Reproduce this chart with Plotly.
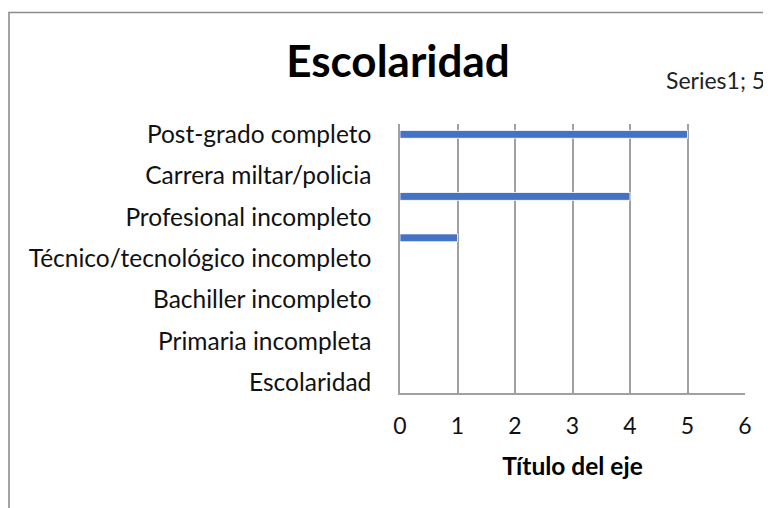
import plotly.graph_objects as go

# Categories top -> bottom (Excel shows every other label)
categories = [
    "Post-grado completo",
    "Post-grado incompleto",
    "Carrera miltar/policia",
    "Profesional completo",
    "Profesional incompleto",
    "Técnico/tecnológico completo",
    "Técnico/tecnológico incompleto",
    "Bachiller completo",
    "Bachiller incompleto",
    "Primaria completa",
    "Primaria incompleta",
    "Ninguna",
    "Escolaridad",
]
values = [5, 0, 0, 4, 0, 1, 0, 0, 0, 0, 0, 0, 0]
shown = [True, False] * 6 + [True]
x_ticks = [0, 1, 2, 3, 4, 5, 6]

pos = list(range(len(categories)))
tickvals = [p for p, s in zip(pos, shown) if s]
ticktext = [c for c, s in zip(categories, shown) if s]

FONT = "Lato"
W, H = 763, 500
L, R, T, B = 392, 26, 116, 115
PW, PH = W - L - R, H - T - B


def px(x):
    return (x - L) / PW


def py(y):
    return (H - B - y) / PH


fig = go.Figure()
fig.add_trace(go.Bar(
    x=values, y=pos, orientation="h", width=0.38,
    marker=dict(color="#4472C4", line=dict(color="white", width=0.8)),
    name="Series1",
))

fig.update_layout(
    width=W, height=H,
    margin=dict(l=L, r=R, t=T, b=B),
    paper_bgcolor="white", plot_bgcolor="white",
    showlegend=False,
    font=dict(family=FONT, color="#111111", size=24),
    title=dict(text="<b>Escolaridad</b>", x=390 / W, xanchor="center",
               y=1 - 54 / H, yanchor="middle",
               font=dict(family=FONT, size=44, color="black")),
)
fig.update_xaxes(
    range=[0, 6], tickvals=x_ticks, showgrid=True, gridcolor="#a0a0a0", gridwidth=1.5,
    showline=True, linecolor="#a0a0a0", linewidth=1.5, zeroline=False,
    ticks="", tickfont=dict(size=23, family=FONT, color="#111111"),
    ticklabelstandoff=12,
    title=dict(text="<b>Título del eje</b>", font=dict(size=24.5, family=FONT, color="black"),
               standoff=20),
)
fig.update_yaxes(
    range=[12.5, -0.5], tickvals=tickvals, ticktext=ticktext, showgrid=False,
    showline=True, linecolor="#a0a0a0", linewidth=1.5, zeroline=False,
    ticks="", tickfont=dict(size=24.5, family=FONT, color="#111111"),
    ticklabelstandoff=22,
)
# data label displaced in Excel
fig.add_annotation(text="Series1; " + str(values[0]), xref="paper", yref="paper",
                   x=px(656), y=py(72), xanchor="left", yanchor="middle",
                   showarrow=False, font=dict(size=23, family=FONT, color="#222222"))
# chart frame
fig.add_shape(type="rect", xref="paper", yref="paper",
              x0=px(1), x1=px(800), y0=py(540), y1=py(4.5),
              line=dict(color="#8c8c8c", width=1.6), fillcolor="rgba(0,0,0,0)", layer="below")

fig.write_html("out.html")
